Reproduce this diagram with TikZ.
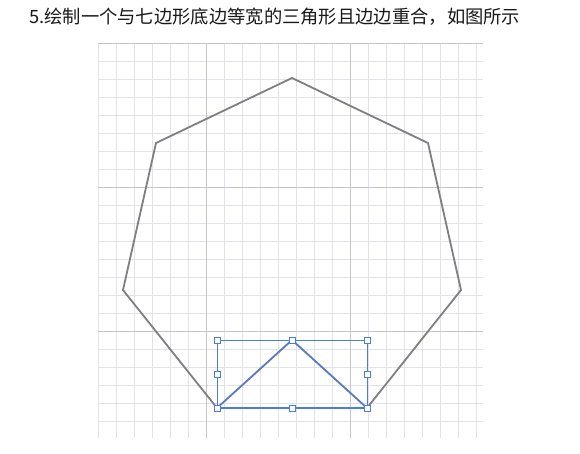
\documentclass[tikz,border=0pt]{standalone}
\usepackage{fontspec}
\newfontfamily\cjk{Noto Sans CJK SC}
\definecolor{gridminor}{HTML}{E2E2EA}
\definecolor{gridmajor}{HTML}{C6C6C6}
\definecolor{polygray}{HTML}{7F7F7F}
\definecolor{selblue}{HTML}{4B7BE5}
\tikzset{
  minorline/.style={draw=gridminor, line width=0.9pt},
  majorline/.style={draw=gridmajor, line width=0.9pt},
  polyline/.style={draw=polygray, line width=1.8pt, line join=miter},
  triline/.style={draw=selblue, line width=1.1pt},
  baseline/.style={draw=selblue, line width=2.6pt},
  boxline/.style={draw=selblue, line width=0.8pt},
  handle/.style={draw=selblue, fill=white, line width=0.8pt, minimum size=6pt, inner sep=0pt, rectangle},
}
\begin{document}
\begin{tikzpicture}[x=1pt,y=-1pt]
\useasboundingbox[fill=white] (0,0) rectangle (580,453);
% grid
\foreach \i in {0,...,21} {
  \pgfmathsetmacro{\xx}{98+18*\i}
  \draw[minorline] (\xx,43) -- (\xx,438);
}
\foreach \j in {0,...,21} {
  \pgfmathsetmacro{\yy}{43+18*\j}
  \draw[minorline] (98,\yy) -- (483,\yy);
}
\draw[majorline] (206,43) -- (206,438);
\draw[majorline] (350,43) -- (350,438);
\draw[majorline] (98,43) -- (483,43);
\draw[majorline] (98,187) -- (483,187);
\draw[majorline] (98,331) -- (483,331);
% heptagon
\coordinate (h1) at (292,78);
\coordinate (h2) at (428,143);
\coordinate (h3) at (461,290);
\coordinate (h4) at (367,408);
\coordinate (h5) at (217,408);
\coordinate (h6) at (123,290);
\coordinate (h7) at (156,143);
\draw[polyline] (h1) -- (h2) -- (h3) -- (h4) -- (h5) -- (h6) -- (h7) -- cycle;
% triangle
\coordinate (tA) at (292,340);
\coordinate (tL) at (217,408);
\coordinate (tR) at (367,408);
\draw[polyline] (tL) -- (tA) -- (tR);
\draw[triline] (tL) -- (tA) -- (tR);
\draw[baseline] (tL) -- (tR);
% bounding box
\coordinate (bTL) at (217,340);
\coordinate (bBR) at (367,408);
\draw[boxline] (bTL) rectangle (bBR);
\node[handle] (k1) at (217,340) {};
\node[handle] (k2) at (292,340) {};
\node[handle] (k3) at (367,340) {};
\node[handle] (k4) at (217,374) {};
\node[handle] (k5) at (367,374) {};
\node[handle] (k6) at (217,408) {};
\node[handle] (k7) at (292,408) {};
\node[handle] (k8) at (367,408) {};
% title
\node[anchor=west, inner sep=0pt, text=black!90, font=\cjk\fontsize{18.3pt}{20pt}\selectfont] (title) at (29,17) {5.绘制一个与七边形底边等宽的三角形且边边重合，如图所示};
\end{tikzpicture}
\end{document}
